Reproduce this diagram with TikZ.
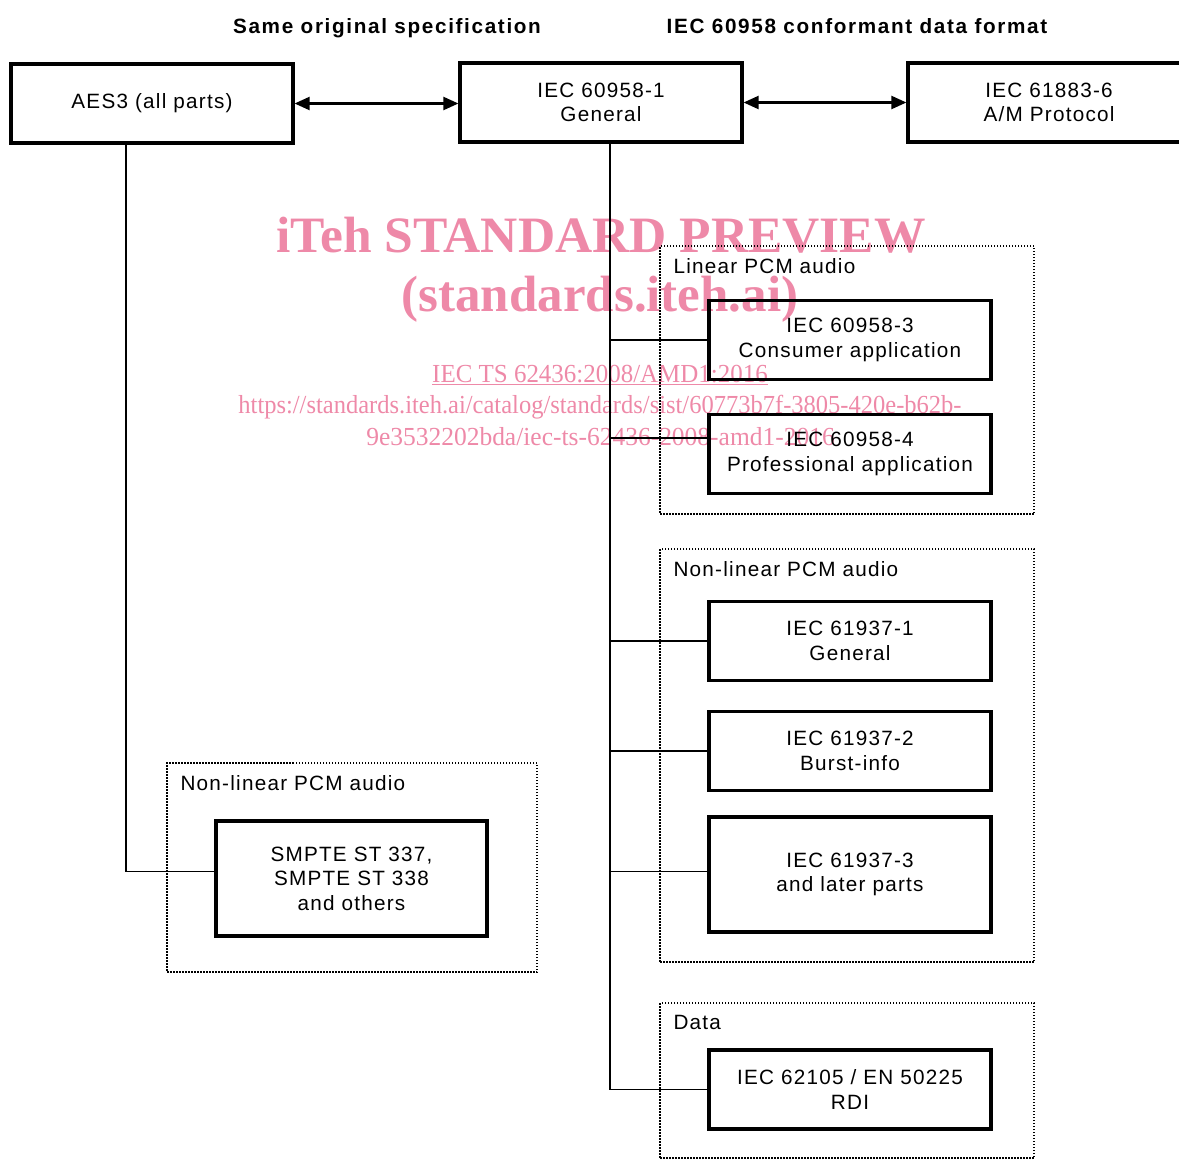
\documentclass[tikz,border=0pt]{standalone}
\usepackage{fontspec}
\setmainfont{Liberation Sans}[LetterSpace=6]
\newfontfamily\wmfont{Liberation Serif}
\usetikzlibrary{positioning,fit,calc,arrows.meta}
\pgfdeclarelayer{background}
\pgfsetlayers{background,main}
\definecolor{wmpink}{RGB}{238,137,168}
\tikzset{std/.style={rectangle,draw=black,line width=3.2pt,minimum width=282pt,
minimum height=79pt,align=center,inner sep=0pt,font=\fontsize{20.7}{24.5}\selectfont},
tallstd/.style={std,minimum height=115pt},
group/.style={rectangle,draw=black,dash pattern=on 1.5pt off 1.5pt,line width=1.3pt,inner sep=0pt},
grouplabel/.style={inner sep=0pt,font=\fontsize{20.7}{24.5}\selectfont},
header/.style={inner sep=0pt,font=\fontsize{20.7}{24.5}\selectfont\bfseries\addfontfeature{LetterSpace=8}},
link/.style={line width=1.6pt},
arr/.style={line width=2.2pt},
wm/.style={inner sep=0pt,text=wmpink,anchor=base},
>={Triangle[length=15pt,width=13pt]}}
\newcommand{\stdgroup}[4]{
\node (#1) [group,fit={#2 #3}] {};
\node (capt#1) [grouplabel,below right=13pt and 14pt of #1.north west] {#4};
}

\begin{document}
\begin{tikzpicture}[x=1pt,y=-1pt]
  \useasboundingbox (0,0) rectangle (1179,1160);

  \begin{pgfonlayer}{background}
    \node (wm1) [wm,font=\wmfont\fontsize{51}{51}\selectfont\bfseries] at (601,252) {\scalebox{1.01}[1]{iTeh STANDARD PREVIEW}};
    \node (wm2) [wm,font=\wmfont\fontsize{51}{51}\selectfont\bfseries] at (600,311) {(standards.iteh.ai)};
    \node (wm3) [wm,font=\wmfont\fontsize{26}{26}\selectfont] at (600,382) {\scalebox{0.96}[1]{\underline{IEC TS 62436:2008/AMD1:2016}}};
    \node (wm4) [wm,font=\wmfont\fontsize{26}{26}\selectfont] at (600,413) {\scalebox{0.943}[1]{https://standards.iteh.ai/catalog/standards/sist/60773b7f-3805-420e-b62b-}};
    \node (wm5) [wm,font=\wmfont\fontsize{26}{26}\selectfont] at (600.5,445) {\scalebox{0.98}[1]{9e3532202bda/iec-ts-62436-2008-amd1-2016}};
  \end{pgfonlayer}

  \node (hsame) [header,anchor=base] at (387,33) {Same original specification};
  \node (hconf) [header,anchor=base] at (857,33) {IEC 60958 conformant data format};

  \node (aes) [std] at (152,103.5) {AES3 (all parts)};
  \node (gen) [std] at (601,102.5) {IEC 60958-1\\General};
  \node (amp) [std] at (1049,102.5) {IEC 61883-6\\A/M Protocol};

  \node (cons) [std] at (850,340) {IEC 60958-3\\Consumer application};
  \node (prof) [std] at (850,454) {IEC 60958-4\\Professional application};
  \node (nl1) [std] at (850,641) {IEC 61937-1\\General};
  \node (nl2) [std] at (850,751) {IEC 61937-2\\Burst-info};
  \node (nl3) [tallstd] at (850,874.5) {IEC 61937-3\\and later parts};
  \node (rdi) [std] at (850,1089.5) {IEC 62105 / EN 50225\\RDI};
  \node (smpte) [tallstd,minimum width=271pt] at (351.5,878.5) {SMPTE ST 337,\\SMPTE ST 338\\and others};

  \draw [arr,<->] (aes.east) -- (aes.east -| gen.west);
  \draw [arr,<->] (gen.east) -- (gen.east -| amp.west);

  \coordinate (atrunk) at ([xshift=-26pt]aes.south);
  \coordinate (gtrunk) at ([xshift=9pt]gen.south);
  \draw [link] (atrunk) |- ([yshift=7pt]smpte.west);
  \draw [link] (gtrunk) |- (rdi.west);
  \foreach \b/\s in {cons/0,prof/16,nl1/0,nl2/0,nl3/3}{
    \coordinate (j\b) at ([yshift=\s pt]\b.west);
    \draw [link] (gtrunk |- j\b) -- (j\b);
  }

  \stdgroup{linpcm}{(660,246)}{(1034,514)}{Linear PCM audio}
  \stdgroup{nlpcm}{(660,549)}{(1034,962)}{Non-linear PCM audio}
  \stdgroup{data}{(660,1003)}{(1034,1158)}{Data}
  \stdgroup{nlsmpte}{(167,763)}{(537,972)}{Non-linear PCM audio}
\end{tikzpicture}
\end{document}
